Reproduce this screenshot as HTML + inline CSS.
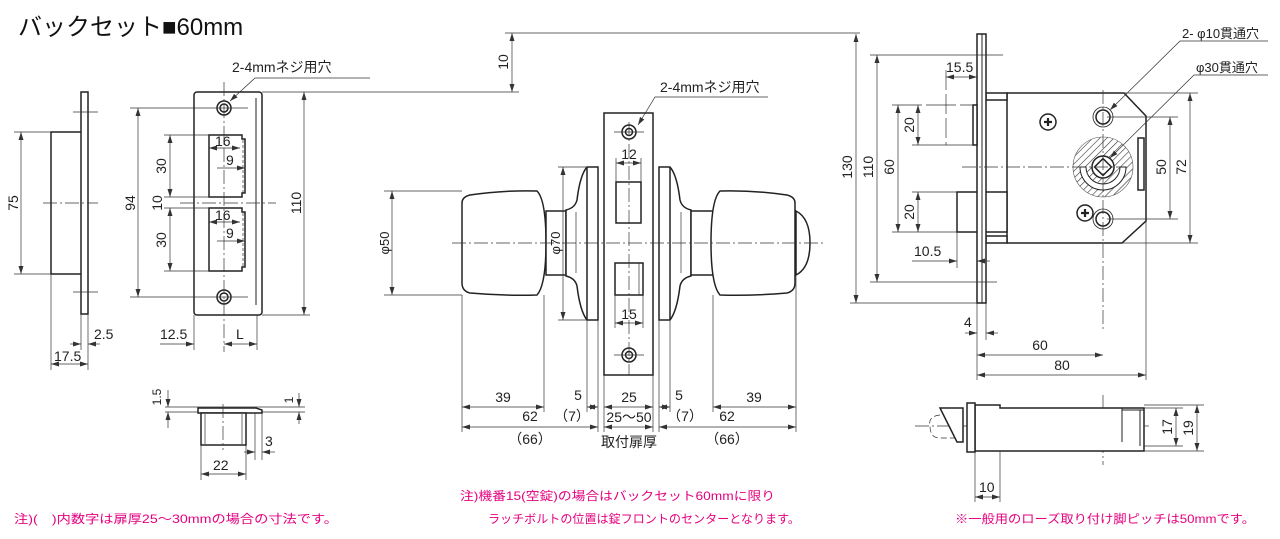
<!DOCTYPE html>
<html><head><meta charset="utf-8"><style>
html,body{margin:0;padding:0;background:#fff;}
svg{display:block;}
text{font-family:"Liberation Sans","Noto Sans CJK JP",sans-serif;fill:#222;font-size:14px;}
.o{fill:#fff;stroke:#222;stroke-width:1.5;}
.n{fill:none;stroke:#222;stroke-width:1.5;}
.d{fill:none;stroke:#333;stroke-width:0.7;}
.c{fill:none;stroke:#333;stroke-width:0.7;stroke-dasharray:14 3 2 3;}
.m{fill:#e4007f;font-size:12px;}
</style></head><body>
<svg width="1280" height="539" viewBox="0 0 1280 539" xmlns="http://www.w3.org/2000/svg">
<defs>
<marker id="a" markerWidth="8" markerHeight="6" refX="8" refY="3" orient="auto-start-reverse" markerUnits="userSpaceOnUse"><path d="M0,0.5 L8,3 L0,5.5Z" fill="#333"/></marker>
</defs>

<text x="18" y="35" style="font-size:24px;fill:#111">バックセット■60mm</text>

<!-- left profile -->
<rect class="o" x="51" y="132" width="32" height="142"/>
<rect class="o" x="81" y="92" width="7" height="222"/>
<line class="c" x1="43" y1="203" x2="98" y2="203"/>
<line class="d" x1="73" y1="112" x2="98" y2="112"/><line class="d" x1="73" y1="292" x2="98" y2="292"/>
<line class="d" x1="14" y1="132" x2="51" y2="132"/><line class="d" x1="14" y1="274" x2="51" y2="274"/>
<line class="d" x1="21" y1="132" x2="21" y2="274" marker-start="url(#a)" marker-end="url(#a)"/>
<text x="18" y="203" transform="rotate(-90 18 203)" text-anchor="middle">75</text>
<line class="d" x1="51" y1="274" x2="51" y2="370"/><line class="d" x1="81" y1="314" x2="81" y2="350"/><line class="d" x1="88" y1="314" x2="88" y2="370"/>
<line class="d" x1="70" y1="344" x2="81" y2="344" marker-end="url(#a)"/><line class="d" x1="100" y1="344" x2="88" y2="344" marker-end="url(#a)"/>
<text x="94" y="339">2.5</text>
<line class="d" x1="51" y1="364" x2="88" y2="364" marker-start="url(#a)" marker-end="url(#a)"/>
<text x="54" y="361">17.5</text>

<!-- strike plate -->
<rect class="o" x="194" y="92" width="68" height="223" rx="3"/>
<line class="n" x1="256" y1="98" x2="256" y2="305" style="stroke-width:1"/>
<path class="o" d="M209,135 H242 V139 H245 V193 H242 V197 H209Z"/>
<path class="o" d="M209,208 H242 V212 H245 V267 H242 V271 H209Z"/>
<line class="d" x1="243" y1="140" x2="243" y2="193" style="stroke-dasharray:3 2"/>
<line class="d" x1="243" y1="213" x2="243" y2="266" style="stroke-dasharray:3 2"/>
<circle class="o" cx="224" cy="108" r="7"/><circle class="o" cx="224" cy="108" r="4"/>
<circle class="o" cx="224" cy="297" r="7"/><circle class="o" cx="224" cy="297" r="4"/>
<line class="c" x1="224" y1="82" x2="224" y2="352"/>
<line class="c" x1="180" y1="203" x2="276" y2="203"/>
<line class="d" x1="130" y1="108" x2="248" y2="108"/><line class="d" x1="130" y1="297" x2="248" y2="297"/>
<line class="d" x1="138" y1="108" x2="138" y2="297" marker-start="url(#a)" marker-end="url(#a)"/>
<text x="135" y="203" transform="rotate(-90 135 203)" text-anchor="middle">94</text>
<line class="d" x1="164" y1="135" x2="209" y2="135"/><line class="d" x1="164" y1="197" x2="209" y2="197"/>
<line class="d" x1="164" y1="208" x2="209" y2="208"/><line class="d" x1="164" y1="271" x2="209" y2="271"/>
<line class="d" x1="170" y1="135" x2="170" y2="197" marker-start="url(#a)" marker-end="url(#a)"/>
<line class="d" x1="170" y1="208" x2="170" y2="271" marker-start="url(#a)" marker-end="url(#a)"/>
<text x="166" y="166" transform="rotate(-90 166 166)" text-anchor="middle">30</text>
<text x="166" y="240" transform="rotate(-90 166 240)" text-anchor="middle">30</text>
<text x="162" y="203" transform="rotate(-90 162 203)" text-anchor="middle">10</text>
<line class="d" x1="209" y1="148" x2="240" y2="148" marker-start="url(#a)" marker-end="url(#a)"/><text x="215" y="146">16</text>
<line class="d" x1="217" y1="168" x2="245" y2="168" marker-end="url(#a)"/><text x="226" y="165">9</text>
<line class="d" x1="209" y1="222" x2="240" y2="222" marker-start="url(#a)" marker-end="url(#a)"/><text x="215" y="220">16</text>
<line class="d" x1="217" y1="241" x2="245" y2="241" marker-end="url(#a)"/><text x="226" y="238">9</text>
<line class="d" x1="262" y1="315" x2="310" y2="315"/>
<line class="d" x1="304" y1="92" x2="304" y2="315" marker-start="url(#a)" marker-end="url(#a)"/>
<text x="301" y="203" transform="rotate(-90 301 203)" text-anchor="middle">110</text>
<line class="d" x1="194" y1="315" x2="194" y2="350"/><line class="d" x1="257" y1="315" x2="257" y2="350"/>
<line class="d" x1="160" y1="344" x2="194" y2="344" marker-end="url(#a)"/>
<line class="d" x1="224" y1="344" x2="257" y2="344" marker-start="url(#a)" marker-end="url(#a)"/>
<text x="160" y="339">12.5</text><text x="236" y="339">L</text>
<text x="232" y="72">2-4mmネジ用穴</text>
<polyline class="d" points="370,78 255,78 230,101" marker-end="url(#a)"/>
<line class="d" x1="262" y1="92" x2="519" y2="92"/>
<line class="d" x1="505" y1="33" x2="860" y2="33"/>
<line class="d" x1="512" y1="33" x2="512" y2="92" marker-start="url(#a)" marker-end="url(#a)"/>
<text x="508" y="62" transform="rotate(-90 508 62)" text-anchor="middle">10</text>

<!-- small bottom strike view -->
<line class="d" x1="165" y1="407" x2="305" y2="407"/><line class="d" x1="165" y1="412" x2="305" y2="412"/>
<path class="o" d="M198,408 H256 L262,410 V413 L256,413 H198Z"/>
<rect class="o" x="201" y="413" width="45" height="32"/>
<line class="d" x1="205" y1="414" x2="205" y2="444"/><line class="d" x1="242" y1="414" x2="242" y2="444"/>
<line class="c" x1="223" y1="404" x2="223" y2="450"/>
<line class="d" x1="168" y1="390" x2="168" y2="407" marker-end="url(#a)"/><line class="d" x1="168" y1="428" x2="168" y2="412" marker-end="url(#a)"/>
<text x="161" y="397" transform="rotate(-90 161 397)" text-anchor="middle" style="font-size:12px">1.5</text>
<line class="d" x1="299" y1="393" x2="299" y2="407" marker-end="url(#a)"/><line class="d" x1="299" y1="424" x2="299" y2="412" marker-end="url(#a)"/>
<text x="293" y="400" transform="rotate(-90 293 400)" text-anchor="middle" style="font-size:12px">1</text>
<line class="d" x1="255" y1="413" x2="255" y2="460"/><line class="d" x1="262" y1="413" x2="262" y2="460"/>
<line class="d" x1="244" y1="452" x2="255" y2="452" marker-end="url(#a)"/><line class="d" x1="275" y1="452" x2="262" y2="452" marker-end="url(#a)"/>
<text x="265" y="446">3</text>
<line class="d" x1="201" y1="445" x2="201" y2="480"/><line class="d" x1="246" y1="445" x2="246" y2="480"/>
<line class="d" x1="201" y1="474" x2="246" y2="474" marker-start="url(#a)" marker-end="url(#a)"/>
<text x="213" y="470">22</text>

<!-- knob set -->
<rect class="o" x="604" y="113" width="49" height="262"/>
<rect class="o" x="616" y="182" width="25" height="41"/>
<rect class="o" x="615" y="263" width="28" height="32"/>
<line class="d" x1="639" y1="263" x2="639" y2="295"/>
<circle class="o" cx="629" cy="132" r="7"/><circle class="o" cx="629" cy="132" r="3.5"/>
<circle class="o" cx="629" cy="355" r="7"/><circle class="o" cx="629" cy="355" r="3.5"/>
<line class="d" x1="614" y1="132" x2="644" y2="132"/><line class="d" x1="614" y1="355" x2="644" y2="355"/>
<line class="c" x1="629" y1="122" x2="629" y2="375"/>
<path class="o" d="M462,203 L462,283 Q462,291 470,293 Q505,296 537,295 Q546,285 546,243 Q546,200 537,191 Q505,190 470,195 Q462,197 462,203Z"/>
<rect class="o" x="546" y="211" width="20" height="64"/>
<path class="o" d="M598,167 L587,167 Q580,175 577,200 Q575,208 566,210 L566,276 Q575,278 577,286 Q580,311 587,320 L598,320Z"/>
<line class="n" x1="587" y1="167" x2="587" y2="320"/>
<line class="d" x1="576" y1="212" x2="576" y2="273"/>
<path class="o" d="M659,167 L670,167 Q677,175 680,200 Q682,208 691,210 L691,276 Q682,278 680,286 Q677,311 670,320 L659,320Z"/>
<line class="n" x1="670" y1="167" x2="670" y2="320"/>
<line class="d" x1="681" y1="212" x2="681" y2="273"/>
<rect class="o" x="691" y="211" width="22" height="64"/>
<path class="o" d="M796,211 Q810,218 810,243 Q810,268 796,275Z"/>
<path class="o" d="M795,203 L795,283 Q795,291 787,293 Q752,296 720,295 Q711,285 711,243 Q711,200 720,191 Q752,190 787,195 Q795,197 795,203Z"/>
<line class="c" x1="452" y1="243" x2="825" y2="243"/>
<line class="d" x1="384" y1="191" x2="462" y2="191"/><line class="d" x1="384" y1="295" x2="462" y2="295"/>
<line class="d" x1="392" y1="191" x2="392" y2="295" marker-start="url(#a)" marker-end="url(#a)"/>
<text x="389" y="243" transform="rotate(-90 389 243)" text-anchor="middle" style="font-size:13px">φ50</text>
<line class="d" x1="558" y1="167" x2="587" y2="167"/><line class="d" x1="558" y1="320" x2="587" y2="320"/>
<line class="d" x1="563" y1="167" x2="563" y2="320" marker-start="url(#a)" marker-end="url(#a)"/>
<text x="560" y="243" transform="rotate(-90 560 243)" text-anchor="middle" style="font-size:13px">φ70</text>
<line class="d" x1="616" y1="163" x2="641" y2="163" marker-start="url(#a)" marker-end="url(#a)"/><line class="d" x1="616" y1="158" x2="616" y2="182"/><line class="d" x1="641" y1="158" x2="641" y2="182"/>
<text x="629" y="159" text-anchor="middle">12</text>
<line class="d" x1="615" y1="323" x2="643" y2="323" marker-start="url(#a)" marker-end="url(#a)"/><line class="d" x1="615" y1="295" x2="615" y2="328"/><line class="d" x1="643" y1="295" x2="643" y2="328"/>
<text x="629" y="319" text-anchor="middle">15</text>
<text x="660" y="92">2-4mmネジ用穴</text>
<polyline class="d" points="768,97 655,97 638,125" marker-end="url(#a)"/>
<g>
<line class="d" x1="462" y1="295" x2="462" y2="432"/><line class="d" x1="544" y1="295" x2="544" y2="412"/>
<line class="d" x1="587" y1="320" x2="587" y2="412"/><line class="d" x1="598" y1="320" x2="598" y2="432"/>
<line class="d" x1="604" y1="375" x2="604" y2="432"/><line class="d" x1="653" y1="375" x2="653" y2="432"/>
<line class="d" x1="659" y1="320" x2="659" y2="432"/><line class="d" x1="670" y1="320" x2="670" y2="412"/>
<line class="d" x1="713" y1="295" x2="713" y2="412"/><line class="d" x1="796" y1="275" x2="796" y2="432"/>
<line class="d" x1="462" y1="407" x2="544" y2="407" marker-start="url(#a)" marker-end="url(#a)"/><text x="503" y="402" text-anchor="middle">39</text>
<line class="d" x1="462" y1="427" x2="598" y2="427" marker-start="url(#a)" marker-end="url(#a)"/><text x="530" y="421" text-anchor="middle">62</text>
<text x="530" y="444" text-anchor="middle">（66）</text>
<line class="d" x1="587" y1="407" x2="598" y2="407" marker-start="url(#a)" marker-end="url(#a)"/><text x="578" y="400" text-anchor="middle">5</text>
<text x="572" y="421" text-anchor="middle">（7）</text>
<line class="d" x1="604" y1="407" x2="653" y2="407" marker-start="url(#a)" marker-end="url(#a)"/><text x="629" y="402" text-anchor="middle">25</text>
<line class="d" x1="604" y1="427" x2="653" y2="427" marker-start="url(#a)" marker-end="url(#a)"/><text x="629" y="422" text-anchor="middle">25〜50</text>
<text x="629" y="447" text-anchor="middle">取付扉厚</text>
<line class="d" x1="659" y1="407" x2="670" y2="407" marker-start="url(#a)" marker-end="url(#a)"/><text x="679" y="400" text-anchor="middle">5</text>
<text x="685" y="421" text-anchor="middle">（7）</text>
<line class="d" x1="713" y1="407" x2="796" y2="407" marker-start="url(#a)" marker-end="url(#a)"/><text x="754" y="402" text-anchor="middle">39</text>
<line class="d" x1="659" y1="427" x2="796" y2="427" marker-start="url(#a)" marker-end="url(#a)"/><text x="727" y="421" text-anchor="middle">62</text>
<text x="727" y="444" text-anchor="middle">（66）</text>
</g>

<!-- lock case -->
<path class="o" d="M1007,93 H1124 L1146,116 V221 L1122,243 H1007Z"/>
<rect class="o" x="986" y="93" width="21" height="7"/><rect class="o" x="986" y="236" width="21" height="7"/>
<rect class="o" x="957" y="192" width="50" height="40"/>
<rect class="o" x="977" y="34" width="9" height="269"/>
<line class="n" x1="982" y1="34" x2="982" y2="303" style="stroke-width:1"/>
<rect class="o" x="973" y="105" width="4" height="40"/>
<rect class="o" x="1138" y="138" width="6" height="52"/>
<defs><pattern id="h" width="5" height="5" patternUnits="userSpaceOnUse" patternTransform="rotate(45)"><line x1="0" y1="0" x2="0" y2="5" stroke="#333" stroke-width="1.2"/></pattern></defs>
<circle cx="1103" cy="167" r="30" fill="url(#h)" stroke="#555" stroke-width="0.6"/>
<path class="o" d="M1080,167 H1086 A17,17 0 0 0 1120,167 H1126 A23,23 0 0 1 1080,167Z" style="stroke-width:1"/>
<circle class="o" cx="1103" cy="167" r="11"/>
<rect class="o" x="1097" y="161" width="12" height="12" transform="rotate(45 1103 167)"/>
<circle class="o" cx="1103" cy="117" r="7"/><circle class="n" cx="1103" cy="117" r="10" style="stroke-width:0.8"/>
<circle class="o" cx="1103" cy="219" r="7"/><circle class="n" cx="1103" cy="219" r="10" style="stroke-width:0.8"/>
<circle class="o" cx="1048" cy="122" r="8"/><path class="n" d="M1044,122 H1052 M1048,118 V126" style="stroke-width:2.2"/>
<circle class="o" cx="1085" cy="213" r="8"/><path class="n" d="M1081,213 H1089 M1085,209 V217" style="stroke-width:2.2"/>
<line class="c" x1="1103" y1="90" x2="1103" y2="330"/>
<line class="c" x1="962" y1="167" x2="1120" y2="167"/>
<line class="d" x1="850" y1="303" x2="977" y2="303"/>
<line class="d" x1="856" y1="34" x2="856" y2="303" marker-start="url(#a)" marker-end="url(#a)"/>
<text x="852" y="167" transform="rotate(-90 852 167)" text-anchor="middle">130</text>
<line class="d" x1="870" y1="55" x2="1003" y2="55"/><line class="d" x1="870" y1="282" x2="997" y2="282"/>
<line class="d" x1="877" y1="55" x2="877" y2="282" marker-start="url(#a)" marker-end="url(#a)"/>
<text x="873" y="167" transform="rotate(-90 873 167)" text-anchor="middle">110</text>
<line class="d" x1="892" y1="105" x2="973" y2="105" style="stroke-dasharray:30 4"/><line class="d" x1="892" y1="232" x2="957" y2="232"/>
<line class="d" x1="898" y1="105" x2="898" y2="232" marker-start="url(#a)" marker-end="url(#a)"/>
<text x="894" y="167" transform="rotate(-90 894 167)" text-anchor="middle">60</text>
<line class="d" x1="912" y1="145" x2="973" y2="145"/><line class="d" x1="912" y1="192" x2="957" y2="192"/>
<line class="d" x1="918" y1="105" x2="918" y2="145" marker-start="url(#a)" marker-end="url(#a)"/>
<line class="d" x1="918" y1="192" x2="918" y2="232" marker-start="url(#a)" marker-end="url(#a)"/>
<text x="914" y="125" transform="rotate(-90 914 125)" text-anchor="middle">20</text>
<text x="914" y="212" transform="rotate(-90 914 212)" text-anchor="middle">20</text>
<line class="d" x1="946" y1="70" x2="946" y2="145" style="stroke-dasharray:20 4"/>
<line class="d" x1="946" y1="77" x2="977" y2="77" marker-start="url(#a)" marker-end="url(#a)"/>
<text x="946" y="72">15.5</text>
<line class="d" x1="957" y1="232" x2="957" y2="268"/>
<line class="d" x1="912" y1="261" x2="957" y2="261" marker-end="url(#a)"/><line class="d" x1="990" y1="261" x2="977" y2="261" marker-end="url(#a)"/>
<text x="914" y="256">10.5</text>
<line class="d" x1="1107" y1="117" x2="1178" y2="117"/><line class="d" x1="1107" y1="219" x2="1178" y2="219"/>
<line class="d" x1="1170" y1="117" x2="1170" y2="219" marker-start="url(#a)" marker-end="url(#a)"/>
<text x="1166" y="167" transform="rotate(-90 1166 167)" text-anchor="middle">50</text>
<line class="d" x1="1124" y1="93" x2="1198" y2="93"/><line class="d" x1="1122" y1="243" x2="1198" y2="243"/>
<line class="d" x1="1190" y1="93" x2="1190" y2="243" marker-start="url(#a)" marker-end="url(#a)"/>
<text x="1186" y="167" transform="rotate(-90 1186 167)" text-anchor="middle">72</text>
<line class="d" x1="977" y1="303" x2="977" y2="380"/><line class="d" x1="986" y1="303" x2="986" y2="340"/>
<line class="d" x1="1146" y1="221" x2="1146" y2="380"/>
<line class="d" x1="965" y1="333" x2="977" y2="333" marker-end="url(#a)"/><line class="d" x1="998" y1="333" x2="986" y2="333" marker-end="url(#a)"/>
<text x="964" y="327">4</text>
<line class="d" x1="977" y1="355" x2="1103" y2="355" marker-start="url(#a)" marker-end="url(#a)"/><text x="1040" y="350" text-anchor="middle">60</text>
<line class="d" x1="977" y1="375" x2="1146" y2="375" marker-start="url(#a)" marker-end="url(#a)"/><text x="1062" y="370" text-anchor="middle">80</text>
<text x="1182" y="38" style="font-size:13px">2- φ10貫通穴</text>
<polyline class="d" points="1268,41 1180,41 1110,110" marker-end="url(#a)"/>
<text x="1196" y="72" style="font-size:13px">φ30貫通穴</text>
<polyline class="d" points="1268,75 1194,75 1110,158" marker-end="url(#a)"/>

<!-- bottom right latch view -->
<line class="c" x1="915" y1="426" x2="1150" y2="426"/>
<line class="c" x1="1103" y1="395" x2="1103" y2="465"/>
<path class="o" d="M940,408 H963 V442 H957 Z"/>
<path class="d" d="M940,415 Q928,416 930,426 Q930,438 940,438 H955" style="stroke-dasharray:6 3"/>
<path class="o" d="M975,405 H1000 V408 H1144 V451 H975Z"/>
<line class="n" x1="1122" y1="408" x2="1122" y2="442" style="stroke-width:1"/>
<line class="n" x1="1122" y1="410" x2="1144" y2="410" style="stroke-width:1"/>
<line class="n" x1="1140" y1="410" x2="1140" y2="446" style="stroke-width:1"/>
<rect class="o" x="967" y="403" width="8" height="49"/>
<line class="d" x1="1144" y1="408" x2="1183" y2="408"/><line class="d" x1="1144" y1="446" x2="1183" y2="446"/>
<line class="d" x1="1144" y1="405" x2="1204" y2="405"/><line class="d" x1="1144" y1="451" x2="1204" y2="451"/>
<line class="d" x1="1176" y1="408" x2="1176" y2="446" marker-start="url(#a)" marker-end="url(#a)"/>
<text x="1172" y="427" transform="rotate(-90 1172 427)" text-anchor="middle">17</text>
<line class="d" x1="1197" y1="405" x2="1197" y2="451" marker-start="url(#a)" marker-end="url(#a)"/>
<text x="1193" y="428" transform="rotate(-90 1193 428)" text-anchor="middle">19</text>
<line class="d" x1="975" y1="452" x2="975" y2="502"/><line class="d" x1="1000" y1="451" x2="1000" y2="502"/>
<line class="d" x1="975" y1="497" x2="1000" y2="497" marker-start="url(#a)" marker-end="url(#a)"/>
<text x="979" y="492">10</text>

<!-- notes -->
<text class="m" x="14" y="523" textLength="324" lengthAdjust="spacingAndGlyphs">注)(　)内数字は扉厚25〜30mmの場合の寸法です。</text>
<text class="m" x="460" y="500" textLength="315" lengthAdjust="spacingAndGlyphs">注)機番15(空錠)の場合はバックセット60mmに限り</text>
<text class="m" x="488" y="523" textLength="312" lengthAdjust="spacingAndGlyphs">ラッチボルトの位置は錠フロントのセンターとなります。</text>
<text class="m" x="955" y="523" textLength="300" lengthAdjust="spacingAndGlyphs">※一般用のローズ取り付け脚ピッチは50mmです。</text>
</svg>
</body></html>
